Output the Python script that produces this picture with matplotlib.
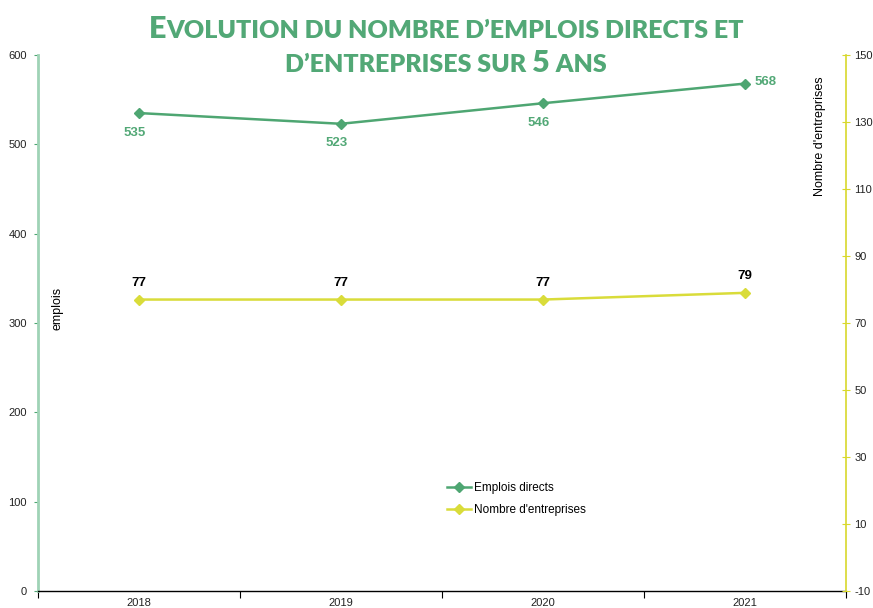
import matplotlib
matplotlib.use('Agg')
import matplotlib.pyplot as plt
from matplotlib.ticker import FixedLocator

# ---- data ----
years = ['2018', '2019', '2020', '2021']
emplois = [535, 523, 546, 568]
entreprises = [77, 77, 77, 79]
left_ticks = [0, 100, 200, 300, 400, 500, 600]
right_ticks = [-10, 10, 30, 50, 70, 90, 110, 130, 150]

G = '#4ea672'
G_TXT = '#52a876'
Y = '#d9dc3a'
LSPINE = '#9fd3b6'
RSPINE = '#d8d82c'

plt.rcParams['font.family'] = ['Liberation Sans', 'DejaVu Sans']
plt.rcParams['axes.unicode_minus'] = False

W, H = 873, 608
fig = plt.figure(figsize=(W / 100, H / 100), dpi=100)
ax = fig.add_axes([38 / W, 1 - 591 / H, (846 - 38) / W, (591 - 55) / H])
ax2 = ax.twinx()

x = list(range(len(years)))
l1, = ax.plot(x, emplois, color=G, marker='D', ms=5, lw=1.8, label='Emplois directs')
l2, = ax2.plot(x, entreprises, color=Y, marker='D', ms=5, lw=1.8, label="Nombre d'entreprises")

ax.set_xlim(-0.5, 3.5)
ax.set_ylim(0, 600)
ax2.set_ylim(-10, 150)

ax.set_yticks(left_ticks)
ax2.set_yticks(right_ticks)
ax.set_xticks(x)
ax.set_xticklabels(years)
ax.xaxis.set_minor_locator(FixedLocator([-0.5, 0.5, 1.5, 2.5, 3.5]))
ax.tick_params(axis='x', which='major', length=0, labelsize=8, pad=5, labelcolor='#222222')
ax.tick_params(axis='x', which='minor', length=5, color='black', width=0.8)
ax.tick_params(axis='y', length=3, color=G, width=0.8, labelsize=8, labelcolor='#222222', pad=5)
ax2.tick_params(axis='y', length=6, direction='inout', color=RSPINE, width=0.8, labelsize=8,
                labelcolor='#222222', pad=3)

for a in (ax, ax2):
    a.spines['top'].set_visible(False)
ax.spines['left'].set_color(LSPINE)
ax.spines['left'].set_linewidth(2)
ax.spines['right'].set_visible(False)
ax2.spines['left'].set_visible(False)
ax2.spines['bottom'].set_visible(False)
ax2.spines['right'].set_color(RSPINE)
ax2.spines['right'].set_linewidth(1.2)
ax.spines['bottom'].set_color('black')
ax.spines['bottom'].set_linewidth(1)

# data labels
for i, v in enumerate(emplois):
    if i < len(emplois) - 1:
        ax.annotate(str(v), (i, v), xytext=(-3, -14), textcoords='offset points',
                    ha='center', va='center', color=G_TXT, fontsize=9.5, fontweight='bold')
    else:
        ax.annotate(str(v), (i, v), xytext=(15, 1), textcoords='offset points',
                    ha='center', va='center', color=G_TXT, fontsize=9.5, fontweight='bold')
for i, v in enumerate(entreprises):
    ax2.annotate(str(v), (i, v), xytext=(0, 12), textcoords='offset points',
                 ha='center', va='center', color='black', fontsize=9.5, fontweight='bold')

# axis titles inside
fig.text(58 / W, 1 - 308 / H, 'emplois', rotation=90, ha='center', va='center', fontsize=9)
fig.text(820 / W, 1 - 136 / H, "Nombre d'entreprises", rotation=90, ha='center', va='center',
         fontsize=9)

fig.legend(handles=[l1, l2], loc='upper left', bbox_to_anchor=(447 / W, 1 - 482 / H),
           frameon=False, fontsize=8.5, handlelength=2.0, handletextpad=0.3, labelspacing=0.85,
           borderaxespad=0, borderpad=0)

# small-caps title
renderer = fig.canvas.get_renderer()
TF = ['Lato', 'DejaVu Sans']
BIG, SMALL = 22, 18


def smallcaps_line(pieces, cx, baseline_y):
    texts = []
    widths = []
    for s, big in pieces:
        t = fig.text(0, 0, s, fontsize=BIG if big else SMALL, fontweight='heavy', family=TF,
                     color=G_TXT, ha='left', va='baseline')
        texts.append(t)
        widths.append(t.get_window_extent(renderer).width)
    total = sum(widths)
    xpos = cx - total / 2
    for t, w in zip(texts, widths):
        t.set_position((xpos / W, 1 - baseline_y / H))
        xpos += w


smallcaps_line([('E', True), ('VOLUTION DU NOMBRE D\u2019EMPLOIS DIRECTS ET', False)], 446, 38)
smallcaps_line([('D\u2019ENTREPRISES SUR ', False), ('5', True), (' ANS', False)], 446, 72)

fig.savefig('out.png', dpi=100)
